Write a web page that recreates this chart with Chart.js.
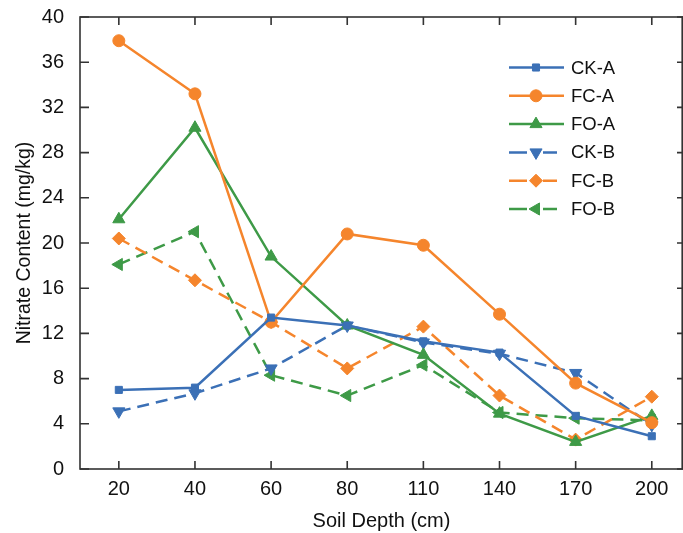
<!DOCTYPE html>
<html>
<head>
<meta charset="utf-8">
<script src="https://cdn.jsdelivr.net/npm/chart.js@4/dist/chart.umd.min.js"></script>
<style>
  html, body { margin: 0; padding: 0; background: #fff; overflow: hidden; }
  #wrap { width: 683px; height: 533px; }
</style>
</head>
<body>
<div id="wrap"><canvas id="nitrateChart" width="683" height="533"></canvas></div>
<script>
// Soil depth categories (cm)
const depths = ['20', '40', '60', '80', '110', '140', '170', '200'];
const yTicks = [0, 4, 8, 12, 16, 20, 24, 28, 32, 36, 40];

// Nitrate content (mg/kg)
const ckA = [7.0, 7.2, 13.4, 12.7, 11.3, 10.3, 4.7, 2.9];
const fcA = [37.9, 33.2, 13.0, 20.8, 19.8, 13.7, 7.6, 4.1];
const foA = [22.1, 30.2, 18.8, 12.7, 10.1, 4.9, 2.4, 4.7];
const ckB = [5.1, 6.7, 8.9, 12.7, 11.2, 10.2, 8.5, 3.9];
const fcB = [20.4, 16.7, 13.0, 8.9, 12.6, 6.5, 2.6, 6.4];
const foB = [18.1, 21.0, 8.3, 6.5, 9.2, 5.0, 4.5, 4.3];

const BLUE = '#3b70b6';
const ORANGE = '#f5852c';
const GREEN = '#3e9a47';
const FONT = '"Liberation Sans", Arial, sans-serif';

function series(label, values, color, pointStyle, rotation, radius, dashed) {
    return {
        label: label,
        data: values.map((v, i) => ({x: i, y: v})),
        borderColor: color,
        backgroundColor: color,
        borderWidth: 2.5,
        borderDash: dashed ? [12, 7] : [],
        pointStyle: pointStyle,
        rotation: rotation,
        pointRadius: radius,
        pointBorderWidth: 1,
        tension: 0
    };
}

const datasets = [
    series('CK-A', ckA, BLUE, 'rect', 0, 5, false),
    series('FC-A', fcA, ORANGE, 'circle', 0, 6, false),
    series('FO-A', foA, GREEN, 'triangle', 0, 7, false),
    series('CK-B', ckB, BLUE, 'triangle', 180, 7, true),
    series('FC-B', fcB, ORANGE, 'rectRot', 0, 6.5, true),
    series('FO-B', foB, GREEN, 'triangle', -90, 7, true)
];

// frame, inward ticks and legend
const framePlugin = {
    id: 'frame',
    afterDatasetsDraw(chart) {
        const ctx = chart.ctx;
        const a = chart.chartArea;
        const xs = chart.scales.x, ys = chart.scales.y;
        ctx.save();
        ctx.strokeStyle = '#333';
        ctx.lineWidth = 1.6;
        ctx.strokeRect(a.left, a.top, a.right - a.left - 0.8, a.bottom - a.top);
        ctx.beginPath();
        xs.ticks.forEach((t, i) => {
            const px = xs.getPixelForTick(i);
            ctx.moveTo(px, a.bottom); ctx.lineTo(px, a.bottom - 8);
            ctx.moveTo(px, a.top); ctx.lineTo(px, a.top + 8);
        });
        ys.ticks.forEach((t, i) => {
            const py = ys.getPixelForTick(i);
            ctx.moveTo(a.left, py); ctx.lineTo(a.left + 9, py);
            ctx.moveTo(a.right, py); ctx.lineTo(a.right - 6, py);
        });
        ctx.stroke();

        // legend
        chart.data.datasets.forEach((ds, i) => {
            const y = 67.5 + i * 28.3;
            ctx.strokeStyle = ds.borderColor;
            ctx.fillStyle = ds.borderColor;
            ctx.lineWidth = 2.5;
            ctx.beginPath();
            if (ds.borderDash.length) {
                ctx.moveTo(509, y); ctx.lineTo(527, y);
                ctx.moveTo(543, y); ctx.lineTo(557, y);
            } else {
                ctx.moveTo(509, y); ctx.lineTo(564, y);
            }
            ctx.stroke();
            ctx.lineWidth = 1;
            Chart.helpers.drawPoint(ctx, {
                pointStyle: ds.pointStyle,
                rotation: ds.rotation,
                radius: ds.pointRadius,
                borderWidth: 1
            }, 536, y);
            ctx.fillStyle = '#111';
            ctx.font = '18.5px ' + FONT;
            ctx.textAlign = 'left';
            ctx.textBaseline = 'middle';
            ctx.fillText(ds.label, 571, y + 1);
        });
        ctx.restore();
    }
};

const chart = new Chart(document.getElementById('nitrateChart'), {
    type: 'line',
    data: { datasets: datasets },
    options: {
        responsive: false,
        animation: false,
        layout: {
            autoPadding: false,
            padding: { top: 17, right: 0, left: 0, bottom: 0 }
        },
        plugins: {
            legend: { display: false },
            tooltip: { enabled: false }
        },
        scales: {
            x: {
                type: 'linear',
                min: -0.51,
                max: 7.41,
                afterBuildTicks: s => { s.ticks = depths.map((d, i) => ({value: i})); },
                afterFit: s => {
                    s.height = 64;
                    s.paddingLeft = 0;
                    s.paddingRight = 0;
                },
                grid: { display: false },
                border: { display: false },
                ticks: {
                    callback: v => depths[v],
                    color: '#111',
                    font: { family: FONT, size: 20 },
                    padding: 0,
                    maxRotation: 0
                },
                title: {
                    display: true,
                    text: 'Soil Depth (cm)',
                    color: '#111',
                    font: { family: FONT, size: 20 },
                    padding: { top: 4, bottom: 0 }
                }
            },
            y: {
                min: 0,
                max: 40,
                afterBuildTicks: s => { s.ticks = yTicks.map(v => ({value: v})); },
                afterFit: s => {
                    s.width = 80;
                    s.paddingTop = 0;
                    s.paddingBottom = 0;
                },
                grid: { display: false },
                border: { display: false },
                ticks: {
                    color: '#111',
                    font: { family: FONT, size: 20 },
                    padding: 8
                },
                title: {
                    display: true,
                    text: 'Nitrate Content (mg/kg)',
                    color: '#111',
                    font: { family: FONT, size: 19.5 },
                    padding: { top: 13, bottom: 0 }
                }
            }
        }
    },
    plugins: [framePlugin]
});
</script>
</body>
</html>
